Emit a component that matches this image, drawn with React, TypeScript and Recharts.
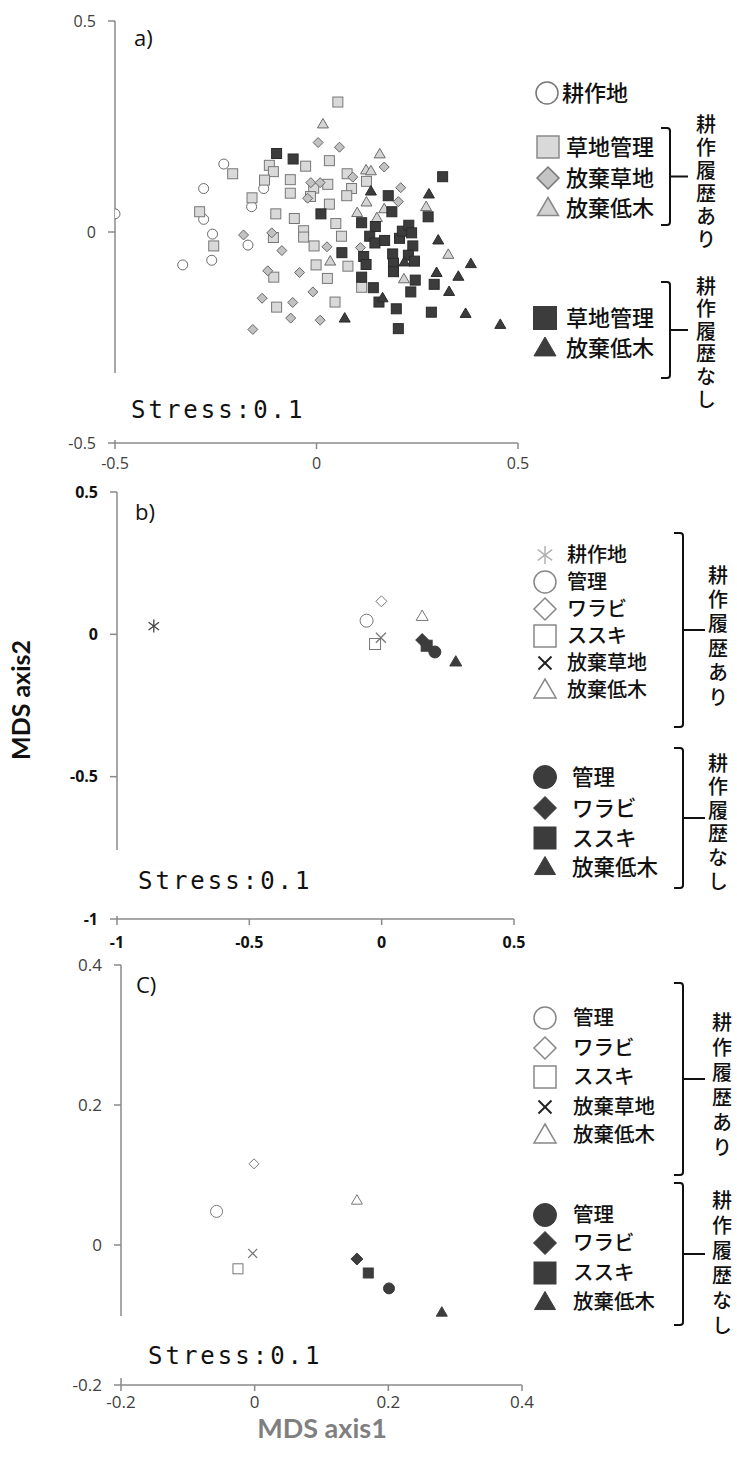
import React from "react";
import { ScatterChart, Scatter, XAxis, YAxis } from "recharts";

type Pt = { x: number; y: number };

// ---- panel a) ----
const aCropland: Pt[] = [
  { x: -0.5, y: 0.043 }, { x: -0.23, y: 0.161 }, { x: -0.28, y: 0.103 }, { x: -0.28, y: 0.03 },
  { x: -0.131, y: 0.103 }, { x: -0.161, y: 0.06 }, { x: -0.258, y: -0.005 }, { x: -0.17, y: -0.031 },
  { x: -0.26, y: -0.067 }, { x: -0.332, y: -0.078 },
];
const aGrassHist: Pt[] = [
  { x: -0.208, y: 0.138 }, { x: -0.117, y: 0.158 }, { x: -0.107, y: 0.143 }, { x: -0.129, y: 0.123 },
  { x: -0.065, y: 0.124 }, { x: -0.027, y: 0.156 }, { x: -0.065, y: 0.092 }, { x: -0.16, y: 0.081 },
  { x: -0.29, y: 0.048 }, { x: -0.101, y: 0.043 }, { x: -0.055, y: 0.032 }, { x: -0.032, y: 0.003 },
  { x: -0.032, y: -0.012 }, { x: -0.006, y: -0.033 }, { x: -0.255, y: -0.033 }, { x: -0.107, y: -0.013 },
  { x: -0.001, y: -0.078 }, { x: -0.106, y: -0.107 }, { x: -0.099, y: -0.178 }, { x: 0.053, y: 0.308 },
  { x: 0.032, y: 0.169 }, { x: 0.076, y: 0.138 }, { x: 0.028, y: 0.113 }, { x: -0.007, y: 0.104 },
  { x: -0.015, y: 0.084 }, { x: 0.087, y: 0.103 }, { x: 0.075, y: 0.086 }, { x: 0.124, y: 0.12 },
  { x: 0.032, y: 0.066 }, { x: 0.048, y: 0.02 }, { x: 0.062, y: -0.01 }, { x: 0.078, y: -0.081 },
  { x: 0.027, y: -0.11 }, { x: 0.112, y: -0.131 }, { x: 0.046, y: -0.166 },
];
const aAbGrassHist: Pt[] = [
  { x: 0.004, y: 0.212 }, { x: -0.014, y: 0.117 }, { x: -0.022, y: 0.08 }, { x: -0.181, y: -0.007 },
  { x: -0.111, y: -0.002 }, { x: -0.086, y: -0.044 }, { x: -0.121, y: -0.092 }, { x: -0.042, y: -0.096 },
  { x: -0.009, y: -0.142 }, { x: -0.135, y: -0.157 }, { x: -0.059, y: -0.167 }, { x: -0.064, y: -0.204 },
  { x: -0.158, y: -0.231 }, { x: 0.009, y: -0.209 }, { x: 0.057, y: 0.201 }, { x: 0.168, y: 0.154 },
  { x: 0.09, y: 0.13 }, { x: 0.009, y: 0.117 }, { x: 0.209, y: 0.105 }, { x: 0.203, y: 0.072 },
  { x: 0.026, y: -0.035 }, { x: 0.109, y: -0.037 },
];
const aShrubHist: Pt[] = [
  { x: 0.016, y: 0.256 }, { x: 0.157, y: 0.185 }, { x: 0.123, y: 0.147 }, { x: 0.135, y: 0.145 },
  { x: 0.124, y: 0.071 }, { x: 0.101, y: 0.046 }, { x: 0.168, y: 0.055 }, { x: 0.15, y: 0.034 },
  { x: 0.272, y: 0.06 }, { x: 0.034, y: -0.069 }, { x: 0.327, y: -0.053 }, { x: 0.217, y: -0.111 },
];
const aGrassNone: Pt[] = [
  { x: -0.099, y: 0.186 }, { x: -0.058, y: 0.173 }, { x: 0.011, y: 0.043 }, { x: 0.313, y: 0.131 },
  { x: 0.178, y: 0.086 }, { x: 0.187, y: 0.048 }, { x: 0.112, y: 0.022 }, { x: 0.146, y: 0.013 },
  { x: 0.132, y: -0.01 }, { x: 0.145, y: -0.026 }, { x: 0.169, y: -0.02 }, { x: 0.206, y: -0.015 },
  { x: 0.213, y: 0.002 }, { x: 0.229, y: 0.016 }, { x: 0.236, y: -0.002 }, { x: 0.239, y: -0.033 },
  { x: 0.277, y: 0.036 }, { x: 0.063, y: -0.049 }, { x: 0.117, y: -0.058 }, { x: 0.123, y: -0.077 },
  { x: 0.189, y: -0.052 }, { x: 0.191, y: -0.074 }, { x: 0.191, y: -0.094 }, { x: 0.228, y: -0.055 },
  { x: 0.243, y: -0.069 }, { x: 0.112, y: -0.107 }, { x: 0.141, y: -0.132 }, { x: 0.155, y: -0.166 },
  { x: 0.198, y: -0.182 }, { x: 0.245, y: -0.114 }, { x: 0.234, y: -0.142 }, { x: 0.292, y: -0.124 },
  { x: 0.285, y: -0.19 }, { x: 0.203, y: -0.229 },
];
const aShrubNone: Pt[] = [
  { x: 0.279, y: 0.09 }, { x: 0.135, y: 0.097 }, { x: 0.302, y: -0.019 }, { x: 0.383, y: -0.075 },
  { x: 0.298, y: -0.096 }, { x: 0.352, y: -0.105 }, { x: 0.329, y: -0.141 }, { x: 0.218, y: -0.071 },
  { x: 0.164, y: -0.156 }, { x: 0.07, y: -0.204 }, { x: 0.37, y: -0.193 }, { x: 0.456, y: -0.219 },
];

// ---- panels b) and c) (centroids) ----
const bcCropland: Pt[] = [{ x: -0.861, y: 0.029 }];
const bcMgmtHist: Pt[] = [{ x: -0.057, y: 0.048 }];
const bcWarabiHist: Pt[] = [{ x: -0.001, y: 0.116 }];
const bcSusukiHist: Pt[] = [{ x: -0.025, y: -0.034 }];
const bcAbGrassHist: Pt[] = [{ x: -0.003, y: -0.012 }];
const bcShrubHist: Pt[] = [{ x: 0.153, y: 0.064 }];
const bcMgmtNone: Pt[] = [{ x: 0.201, y: -0.062 }];
const bcWarabiNone: Pt[] = [{ x: 0.153, y: -0.02 }];
const bcSusukiNone: Pt[] = [{ x: 0.17, y: -0.04 }];
const bcShrubNone: Pt[] = [{ x: 0.28, y: -0.096 }];

const aTicks = [-0.5, 0, 0.5];
const bTicks = [-1, -0.5, 0, 0.5];
const cTicks = [-0.2, 0, 0.2, 0.4];

const aLegendTop = ["耕作地"];
const aLegendHist = ["草地管理", "放棄草地", "放棄低木"];
const aLegendNone = ["草地管理", "放棄低木"];
const bLegendHist = ["耕作地", "管理", "ワラビ", "ススキ", "放棄草地", "放棄低木"];
const cLegendHist = ["管理", "ワラビ", "ススキ", "放棄草地", "放棄低木"];
const bcLegendNone = ["管理", "ワラビ", "ススキ", "放棄低木"];
const histLabel = "耕作履歴あり";
const noneLabel = "耕作履歴なし";

const AX = "#8a8a8a";
const DARK = "#3c3c3c";
const JP = "'Noto Sans CJK JP', sans-serif";

type MStyle = { kind: string; s: number; fill: string; stroke: string; sw?: number };

function Marker({ cx, cy, kind, s, fill, stroke, sw = 1 }: MStyle & { cx: number; cy: number }) {
  const h = s / 2;
  if (cx == null || cy == null) return null;
  switch (kind) {
    case "circle":
      return <circle cx={cx} cy={cy} r={h} fill={fill} stroke={stroke} strokeWidth={sw} />;
    case "square":
      return <rect x={cx - h} y={cy - h} width={s} height={s} fill={fill} stroke={stroke} strokeWidth={sw} />;
    case "diamond":
      return (
        <polygon
          points={`${cx},${cy - h} ${cx + h},${cy} ${cx},${cy + h} ${cx - h},${cy}`}
          fill={fill} stroke={stroke} strokeWidth={sw}
        />
      );
    case "triangle":
      return (
        <polygon
          points={`${cx},${cy - h} ${cx + h},${cy + h * 0.72} ${cx - h},${cy + h * 0.72}`}
          fill={fill} stroke={stroke} strokeWidth={sw}
        />
      );
    case "x":
      return (
        <g stroke={stroke} strokeWidth={sw}>
          <line x1={cx - h} y1={cy - h} x2={cx + h} y2={cy + h} />
          <line x1={cx - h} y1={cy + h} x2={cx + h} y2={cy - h} />
        </g>
      );
    case "star":
      return (
        <g stroke={stroke} strokeWidth={sw}>
          <line x1={cx - h * 0.8} y1={cy - h * 0.6} x2={cx + h * 0.8} y2={cy + h * 0.6} />
          <line x1={cx - h * 0.8} y1={cy + h * 0.6} x2={cx + h * 0.8} y2={cy - h * 0.6} />
          <line x1={cx} y1={cy - h} x2={cx} y2={cy + h} />
        </g>
      );
  }
  return null;
}

const shapeOf = (m: MStyle) => (p: any) => <Marker cx={p.cx} cy={p.cy} {...m} />;

const aSeries: { data: Pt[]; m: MStyle }[] = [
  { data: aCropland, m: { kind: "circle", s: 10, fill: "#fff", stroke: "#6a6a6a" } },
  { data: aGrassHist, m: { kind: "square", s: 10, fill: "#d9d9d9", stroke: "#777" } },
  { data: aAbGrassHist, m: { kind: "diamond", s: 10, fill: "#c2c2c2", stroke: "#666" } },
  { data: aShrubHist, m: { kind: "triangle", s: 11, fill: "#d4d4d4", stroke: "#6a6a6a" } },
  { data: aGrassNone, m: { kind: "square", s: 10, fill: DARK, stroke: "#2a2a2a" } },
  { data: aShrubNone, m: { kind: "triangle", s: 11, fill: DARK, stroke: "#2a2a2a" } },
];

const bSeries: { data: Pt[]; m: MStyle }[] = [
  { data: bcCropland, m: { kind: "star", s: 13, fill: "none", stroke: "#444", sw: 1.3 } },
  { data: bcMgmtHist, m: { kind: "circle", s: 13, fill: "#fff", stroke: "#777" } },
  { data: bcWarabiHist, m: { kind: "diamond", s: 11, fill: "#fff", stroke: "#777" } },
  { data: bcSusukiHist, m: { kind: "square", s: 11, fill: "#fff", stroke: "#777" } },
  { data: bcAbGrassHist, m: { kind: "x", s: 10, fill: "none", stroke: "#777", sw: 1.3 } },
  { data: bcShrubHist, m: { kind: "triangle", s: 12, fill: "#fff", stroke: "#777" } },
  { data: bcWarabiNone, m: { kind: "diamond", s: 13, fill: DARK, stroke: DARK } },
  { data: bcSusukiNone, m: { kind: "square", s: 11, fill: DARK, stroke: DARK } },
  { data: bcMgmtNone, m: { kind: "circle", s: 12, fill: DARK, stroke: DARK } },
  { data: bcShrubNone, m: { kind: "triangle", s: 12, fill: DARK, stroke: DARK } },
];

const cSeries: { data: Pt[]; m: MStyle }[] = bSeries.slice(1).map((s) => ({ ...s, m: { ...s.m, s: s.m.s - 1 } }));

function Panel({
  series, xDomain, yDomain, xTicks, yTicks, width, height, margin, yWidth, tickFont, xMargin, yMargin,
}: any) {
  return (
    <ScatterChart width={width} height={height} margin={margin}>
      <XAxis
        type="number" dataKey="x" domain={xDomain} ticks={xTicks} interval={0} allowDataOverflow
        height={40} tickSize={6} tickMargin={xMargin}
        axisLine={{ stroke: AX, strokeWidth: 1.5 }} tickLine={{ stroke: AX, strokeWidth: 1.5 }}
        tick={tickFont}
      />
      <YAxis
        type="number" dataKey="y" domain={yDomain} ticks={yTicks} interval={0} allowDataOverflow
        width={yWidth} tickSize={7} tickMargin={yMargin}
        axisLine={{ stroke: AX, strokeWidth: 1.5 }} tickLine={{ stroke: AX, strokeWidth: 1.5 }}
        tick={tickFont}
      />
      {series.map((s: any, i: number) => (
        <Scatter key={i} data={s.data} shape={shapeOf(s.m)} isAnimationActive={false} />
      ))}
    </ScatterChart>
  );
}

function Bracket({ x, y1, y2, tip }: { x: number; y1: number; y2: number; tip: number }) {
  const mid = (y1 + y2) / 2;
  return (
    <path
      d={`M ${x - 9} ${y1} L ${x - 3} ${y1} Q ${x} ${y1} ${x} ${y1 + 3} L ${x} ${y2 - 3} Q ${x} ${y2} ${x - 3} ${y2} L ${x - 9} ${y2} M ${x} ${mid} L ${tip} ${mid}`}
      fill="none" stroke="#111" strokeWidth={2}
    />
  );
}

// vertical (tategaki) label: y0 is the centre of the first character
function VText({ text, x, y0, step }: { text: string; x: number; y0: number; step: number }) {
  const fs = 20;
  return (
    <text x={x} y={y0 - fs / 2} writingMode="vertical-rl" letterSpacing={step - fs}
      fontFamily={JP} fontSize={fs} fontWeight={500} fill="#111">{text}</text>
  );
}

// one legend block: markers plus a single text element holding every row
function LegendBlock({ items, mx, tx, ys, size = 22 }: { items: { m: MStyle; label: string }[]; mx: number; tx: number; ys: number[]; size?: number }) {
  return (
    <g>
      {items.map((it, i) => <Marker key={i} cx={mx} cy={ys[i]} {...it.m} />)}
      <text fontFamily={JP} fontSize={size} fontWeight={500} fill="#111">
        {items.map((it, i) => (
          <tspan key={i} x={tx} y={ys[i] + size * 0.36}>{it.label}</tspan>
        ))}
      </text>
    </g>
  );
}

function StressBox({ x, y, w, h, tx, ty }: any) {
  return (
    <g>
      <rect x={x} y={y} width={w} height={h} fill="#fff" />
      <text x={tx} y={ty} fontFamily="'DejaVu Sans Mono', monospace" fontSize={24} letterSpacing={3} fill="#111">Stress:0.1</text>
    </g>
  );
}

const legHistB: MStyle[] = [
  { kind: "star", s: 18, fill: "none", stroke: "#b0b0b0", sw: 1.5 },
  { kind: "circle", s: 22, fill: "#fff", stroke: "#888", sw: 1.5 },
  { kind: "diamond", s: 22, fill: "#fff", stroke: "#888", sw: 1.5 },
  { kind: "square", s: 22, fill: "#fff", stroke: "#888", sw: 1.5 },
  { kind: "x", s: 13, fill: "none", stroke: "#222", sw: 2 },
  { kind: "triangle", s: 22, fill: "#fff", stroke: "#888", sw: 1.5 },
];
const legNoneB: MStyle[] = [
  { kind: "circle", s: 23, fill: DARK, stroke: DARK },
  { kind: "diamond", s: 23, fill: DARK, stroke: DARK },
  { kind: "square", s: 22, fill: DARK, stroke: DARK },
  { kind: "triangle", s: 21, fill: DARK, stroke: DARK },
];
const legA: MStyle[] = [
  { kind: "circle", s: 22, fill: "#fff", stroke: "#777", sw: 1.5 },
  { kind: "square", s: 22, fill: "#d9d9d9", stroke: "#8a8a8a", sw: 1.5 },
  { kind: "diamond", s: 22, fill: "#c4c4c4", stroke: "#777", sw: 1.5 },
  { kind: "triangle", s: 21, fill: "#d2d2d2", stroke: "#888", sw: 1.5 },
  { kind: "square", s: 23, fill: DARK, stroke: DARK },
  { kind: "triangle", s: 22, fill: DARK, stroke: DARK },
];

export default function App() {
  const bYs = [555, 582, 609, 636, 663, 690];
  const bNoneYs = [777, 808, 838, 867];
  const cYs = [1018, 1048, 1077, 1107, 1135];
  const cNoneYs = [1215, 1243, 1273, 1302];
  const sans = "'Open Sans', sans-serif";
  return (
    <div style={{ position: "absolute", left: 0, top: 0, width: 737, height: 1459, background: "#fff" }}>
      <div style={{ position: "absolute", left: 0, top: 0 }}>
        <Panel
          series={aSeries} xDomain={[-0.5, 0.5]} yDomain={[-0.5, 0.5]} xTicks={aTicks} yTicks={aTicks}
          width={737} height={490} margin={{ top: 21, right: 219, bottom: 7, left: 0 }} yWidth={115}
          tickFont={{ fontSize: 16, fill: "#404040", fontFamily: sans }} xMargin={9} yMargin={12}
        />
      </div>
      <div style={{ position: "absolute", left: 0, top: 470 }}>
        <Panel
          series={bSeries} xDomain={[-1, 0.5]} yDomain={[-1, 0.5]} xTicks={bTicks} yTicks={bTicks}
          width={737} height={500} margin={{ top: 22, right: 223, bottom: 11, left: 0 }} yWidth={117}
          tickFont={{ fontSize: 16, fill: "#111", fontWeight: 700, fontFamily: sans }} xMargin={12} yMargin={12}
        />
      </div>
      <div style={{ position: "absolute", left: 0, top: 950 }}>
        <Panel
          series={cSeries} xDomain={[-0.2, 0.4]} yDomain={[-0.2, 0.4]} xTicks={cTicks} yTicks={cTicks}
          width={737} height={490} margin={{ top: 15, right: 215, bottom: 15, left: 0 }} yWidth={121}
          tickFont={{ fontSize: 17, fill: "#404040", fontFamily: sans }} xMargin={5} yMargin={12}
        />
      </div>
      <svg width={737} height={1459} style={{ position: "absolute", left: 0, top: 0, pointerEvents: "none" }}>
        {/* panel labels */}
        <text x={134} y={46} fontFamily={sans} fontSize={22} fill="#111">a)</text>
        <text x={135} y={520} fontFamily={sans} fontSize={22} fill="#111">b)</text>
        <text x={136} y={993} fontFamily={sans} fontSize={22} fill="#111">C)</text>

        {/* stress labels (white box hides the lower part of the y axis) */}
        <StressBox x={100} y={373} w={240} h={67} tx={131} ty={418} />
        <StressBox x={100} y={850} w={240} h={66} tx={138} ty={889} />
        <StressBox x={100} y={1316} w={240} h={62} tx={148} ty={1364} />

        {/* legend a */}
        <LegendBlock items={[{ m: legA[0], label: aLegendTop[0] }]} mx={547} tx={562} ys={[93]} />
        <LegendBlock items={aLegendHist.map((l, i) => ({ m: legA[i + 1], label: l }))} mx={548} tx={566} ys={[147, 178, 208]} />
        <LegendBlock items={aLegendNone.map((l, i) => ({ m: legA[i + 4], label: l }))} mx={545} tx={566} ys={[318, 348]} />
        <Bracket x={670} y1={128} y2={225} tip={688} />
        <Bracket x={670} y1={282} y2={378} tip={688} />
        <VText text={histLabel} x={706} y0={124} step={23} />
        <VText text={noneLabel} x={706} y0={286} step={22.6} />

        {/* legend b */}
        <LegendBlock items={bLegendHist.map((l, i) => ({ m: legHistB[i], label: l }))} mx={545} tx={567} ys={bYs} size={20} />
        <LegendBlock items={bcLegendNone.map((l, i) => ({ m: legNoneB[i], label: l }))} mx={545} tx={572} ys={bNoneYs} size={21.5} />
        <Bracket x={683} y1={533} y2={727} tip={705} />
        <Bracket x={683} y1={748} y2={888} tip={705} />
        <VText text={histLabel} x={718} y0={575} step={24.4} />
        <VText text={noneLabel} x={718} y0={763} step={23.6} />

        {/* legend c */}
        <LegendBlock items={cLegendHist.map((l, i) => ({ m: legHistB[i + 1], label: l }))} mx={545} tx={573} ys={cYs} size={20.5} />
        <LegendBlock items={bcLegendNone.map((l, i) => ({ m: legNoneB[i], label: l }))} mx={545} tx={573} ys={cNoneYs} size={20.5} />
        <Bracket x={683} y1={983} y2={1175} tip={705} />
        <Bracket x={683} y1={1183} y2={1325} tip={705} />
        <VText text={histLabel} x={722} y0={1022} step={25} />
        <VText text={noneLabel} x={722} y0={1200} step={25} />

        {/* axis titles */}
        <text x={0} y={0} transform="translate(30,700) rotate(-90)" textAnchor="middle"
          fontFamily="Lato, sans-serif" fontWeight={700} fontSize={25} fill="#111">MDS axis2</text>
        <text x={322} y={1438} textAnchor="middle" fontFamily="Lato, sans-serif" fontWeight={700} fontSize={27} fill="#7f7f7f">MDS axis1</text>
      </svg>
    </div>
  );
}
